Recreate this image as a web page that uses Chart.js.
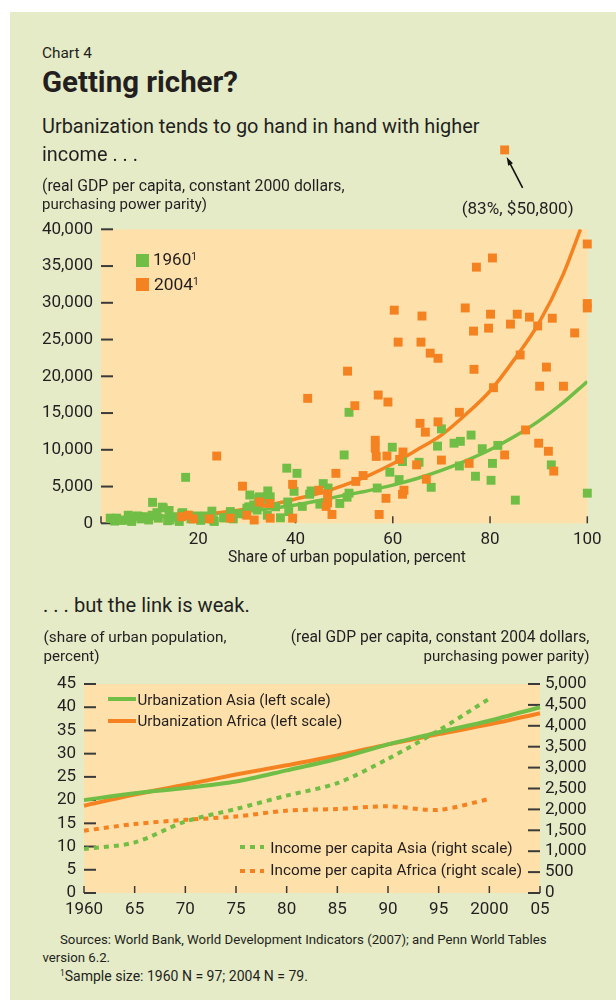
<!DOCTYPE html>
<html>
<head>
<meta charset="utf-8">
<script src="https://cdn.jsdelivr.net/npm/chart.js@4.4.1/dist/chart.umd.min.js"></script>
<style>
  body { margin: 0; width: 616px; height: 1000px; background: #fff; font-family: Roboto, sans-serif; color: #231f20; position: relative; overflow: hidden; }
  #panel { position: absolute; left: 10px; top: 12px; width: 606px; height: 988px; background: #e5ebc7; }
  canvas { position: absolute; left: 0; }
  .t { position: absolute; white-space: nowrap; line-height: 1; font-size: 16px; }
  .b { font-weight: 700; }
  .sup { font-size: 0.6em; position: relative; top: -0.55em; }
  .key { position: absolute; }
</style>
</head>
<body>
<div id="panel"></div>
<canvas id="scatter" width="616" height="440" style="top:140px"></canvas>
<canvas id="lines" width="616" height="270" style="top:660px"></canvas>

<div class="t" data-p="42,59,50">Chart 4</div>
<div class="t b" data-p="42,93,196">Getting richer?</div>
<div class="t" data-p="42,134,438">Urbanization tends to go hand in hand with higher</div>
<div class="t" data-p="42,161.7,96">income . . .</div>
<div class="t" data-p="42,191,303">(real GDP per capita, constant 2000 dollars,</div>
<div class="t" data-p="42,210,165">purchasing power parity)</div>
<div class="t" data-p="461.7,214,112">(83%, $50,800)</div>

<div class="key" style="left:136px;top:254px;width:13px;height:13px;background:#70be46"></div>
<div class="key" style="left:136px;top:278px;width:13px;height:13px;background:#f58220"></div>
<div class="t" data-p="153,265.7,44">1960<span class="sup">1</span></div>
<div class="t" data-p="154,291,45">2004<span class="sup">1</span></div>
<div class="t" data-p="228,563,238">Share of urban population, percent</div>

<div class="t" data-p="43,611.7,207">. . . but the link is weak.</div>
<div class="t" data-p="43.6,643.3,183">(share of urban population,</div>
<div class="t" data-p="43.6,661.7,56">percent)</div>
<div class="t" data-r="1" data-p="589.4,643.3,299">(real GDP per capita, constant 2004 dollars,</div>
<div class="t" data-r="1" data-p="589.4,661.7,166">purchasing power parity)</div>

<div class="key" style="left:108px;top:697px;width:28px;height:4px;background:#70be46"></div>
<div class="key" style="left:108px;top:719px;width:28px;height:4px;background:#f58220"></div>
<div class="key" style="left:240px;top:845px;width:24px;height:4px;background:repeating-linear-gradient(90deg,#70be46 0 5px,transparent 5px 10px)"></div>
<div class="key" style="left:240px;top:869px;width:24px;height:4px;background:repeating-linear-gradient(90deg,#f58220 0 5px,transparent 5px 10px)"></div>
<div class="t" data-p="137.5,705.5,193.5">Urbanization Asia (left scale)</div>
<div class="t" data-p="137.5,727,205">Urbanization Africa (left scale)</div>
<div class="t" data-p="270.3,854,242.5">Income per capita Asia (right scale)</div>
<div class="t" data-p="270.3,875.5,252">Income per capita Africa (right scale)</div>

<div class="t" data-p="60,944.5,487">Sources: World Bank, World Development Indicators (2007); and Penn World Tables</div>
<div class="t" data-fs="13.2" data-p="42.4,962.5,0">version 6.2.</div>
<div class="t" data-p="60,980.5,248"><span class="sup">1</span>Sample size: 1960 N = 97; 2004 N = 79.</div>

<script>
// ---- top chart: urban share (%) vs real GDP per capita ----
const urban1960 = [1.9, 2.2, 2.8, 3.2, 3.9, 4.6, 5.6, 5.8, 6.3, 6.3, 7.4, 7.7, 8.2, 8.7, 9.1, 9.8, 10.5, 10.6, 10.6, 11.5,
  11.8, 12.6, 12.8, 13.7, 14, 14.2, 14.9, 15.9, 16.1, 16.6, 16.8, 17.4, 17.7, 18.5, 19.7, 20.5, 21.4, 22.8, 23.1, 23.3,
  25.2, 25.5, 26.6, 27.2, 28, 29.7, 30, 30.4, 30.6, 31.4, 32.1, 32.4, 32.6, 33.5, 34.2, 34.3, 34.8, 35.9, 36.9, 38.2,
  38.4, 38.6, 39.7, 40.3, 41.4, 42.9, 43.2, 45, 45.7, 46.7, 49.1, 50, 50.6, 51, 51, 56.8, 59.4, 59.9, 61.3, 62,
  65.4, 67.9, 69.2, 70, 72.6, 73.7, 73.9, 76.1, 77, 78.4, 80.2, 80.5, 81.6, 85.2, 92.6, 100];
const gdp1960 = [700, 650, 300, 700, 450, 400, 1100, 800, 750, 250, 1000, 950, 600, 900, 750, 450, 1100, 2850, 1000, 1450,
  700, 2200, 2100, 350, 1750, 450, 900, 800, 250, 1350, 1450, 6250, 1100, 600, 1000, 400, 1000, 1650, 450, 250,
  750, 750, 1600, 600, 1300, 1250, 2050, 2250, 3850, 2500, 1800, 3400, 3600, 3250, 1100, 4400, 3600, 2250, 750, 7500,
  2900, 1600, 4350, 6800, 2300, 3950, 4400, 2600, 5400, 4800, 2700, 9300, 3550, 4100, 15100, 4800, 6950, 10350, 5950, 8400,
  8300, 4900, 10500, 12850, 10900, 7800, 11150, 12000, 6400, 10150, 5850, 8150, 10600, 3150, 7950, 4100];

const urban2004 = [16.6, 18, 19, 22.3, 23.8, 26.6, 29.1, 30, 31.5, 32.6, 34.7, 34.8, 39.4, 39.4, 42.5, 44.8, 46.6, 46.6, 46.3, 47.5,
  48.3, 50.7, 52.2, 52.4, 53.9, 56.4, 56.4, 56.6, 57, 57.2, 58.6, 58.8, 59, 60.3, 61.1, 61.4, 62, 62.3, 62.1, 64.9,
  65.6, 65.8, 66, 66.7, 66.9, 67.7, 69.3, 69.3, 70, 73.7, 74.9, 75.7, 76.6, 76.7, 77.2, 79.7, 80.1, 80.5, 80.7, 83,
  83, 84.2, 85.6, 86.2, 87.3, 88.1, 89.8, 90, 90.2, 91.6, 92, 92.8, 93.1, 95.1, 97.4, 100, 100, 100];
const gdp2004 = [900, 1100, 600, 600, 9150, 700, 5050, 1100, 450, 2900, 2700, 700, 5300, 700, 17000, 4500, 4000, 2800, 2300, 1200,
  6800, 20700, 16000, 5700, 6500, 11300, 10200, 9100, 17450, 1200, 3400, 9150, 16500, 29000, 24650, 8700, 3950, 4500, 9700, 7950,
  13600, 24650, 28200, 12400, 6000, 23150, 13800, 22450, 8600, 15100, 29300, 8150, 26150, 20950, 34850, 26550, 28450, 36100, 18450, 9300,
  50800, 27100, 28450, 22900, 12700, 28050, 26850, 10900, 18650, 21250, 9800, 27900, 7100, 18650, 25900, 38000, 29900, 29300];

// fitted trend curves
const fitUrban1960 = [2, 10, 20, 30, 40, 50, 55, 60, 65, 70, 75, 80, 85, 90, 95, 100];
const fitGdp1960 = [700, 900, 1200, 1650, 2500, 3800, 4450, 5200, 6100, 7200, 8500, 10000, 11800, 13900, 16400, 19300];
const fitUrban2004 = [17, 20, 25, 30, 35, 40, 45, 50, 55, 60, 65, 70, 75, 80, 85, 90, 95, 98.6];
const fitGdp2004 = [800, 1100, 1500, 1950, 2550, 3300, 4100, 5200, 6500, 8100, 10000, 12000, 14800, 18000, 22300, 27200, 33800, 40000];

// the labelled outlier (also in the 2004 arrays), sits above the plot
const noteUrban = 83;
const noteGdp = 50800;

const urbanTicks = [0, 20, 40, 60, 80, 100];
const gdpTicks = [0, 5000, 10000, 15000, 20000, 25000, 30000, 35000, 40000];

// ---- bottom chart: urbanization and income, Asia vs Africa ----
const years = ['1960', '65', '70', '75', '80', '85', '90', '95', '2000', '05'];
const urbAsia = [20, 21.5, 22.6, 24.0, 26.4, 28.9, 32.0, 34.6, 37.1, 40.0];
const urbAfrica = [18.8, 21.2, 23.3, 25.5, 27.5, 29.6, 32.0, 34.2, 36.3, 38.7];
const incAsia = [1050, 1210, 1710, 2010, 2330, 2630, 3210, 3890, 4650];
const incAfrica = [1490, 1650, 1750, 1830, 1970, 2010, 2075, 1990, 2250];
const shareTicks = [0, 5, 10, 15, 20, 25, 30, 35, 40, 45];
const incomeTicks = [0, 500, 1000, 1500, 2000, 2500, 3000, 3500, 4000, 4500, 5000];

const green = '#70be46';
const orange = '#f58220';
const plotBg = '#fde0aa';

Chart.defaults.font.family = 'Roboto';
Chart.defaults.font.size = 17;
Chart.defaults.color = '#231f20';

const toXY = (xs, ys) => xs.map((x, i) => ({ x, y: ys[i] }));
const fmt = v => v.toLocaleString('en-US');
const squareMark = { pointStyle: 'rect', radius: 6.3, rotation: 0, borderWidth: 0 };

// fill the plot area
const plotBackground = {
  id: 'plotBackground',
  beforeDraw(chart) {
    const { ctx, chartArea: a } = chart;
    ctx.save();
    ctx.fillStyle = plotBg;
    ctx.fillRect(a.left, a.top, a.right - a.left, a.bottom - a.top);
    ctx.restore();
  }
};

// tick marks point into the plot
const inwardTicks = {
  id: 'inwardTicks',
  beforeDatasetsDraw(chart) {
    const { ctx, chartArea: a } = chart;
    ctx.save();
    ctx.strokeStyle = '#3a3a3a';
    Object.values(chart.scales).forEach(s => {
      s.ticks.forEach((t, i) => {
        const p = s.getPixelForTick(i);
        ctx.beginPath();
        if (s.position === 'bottom') {
          ctx.lineWidth = 1.5;
          ctx.moveTo(p, a.bottom - 7);
          ctx.lineTo(p, a.bottom);
        } else if (s.position === 'left') {
          ctx.lineWidth = 2;
          ctx.moveTo(a.left, p);
          ctx.lineTo(a.left + 12, p);
        } else {
          ctx.lineWidth = 2;
          ctx.moveTo(a.right - 12, p);
          ctx.lineTo(a.right, p);
        }
        ctx.stroke();
      });
    });
    ctx.restore();
  }
};

// the outlier lies outside the chart area, so Chart.js skips it: draw it here, plus its arrow
const outlierArrow = {
  id: 'outlierArrow',
  afterDatasetsDraw(chart) {
    const { ctx } = chart;
    const px = chart.scales.x.getPixelForValue(noteUrban);
    const py = chart.scales.y.getPixelForValue(noteGdp);
    ctx.save();
    ctx.fillStyle = orange;
    Chart.helpers.drawPoint(ctx, squareMark, px, py);
    const tip = [px + 2, py + 7], tail = [px + 18, py + 38];
    const ang = Math.atan2(tip[1] - tail[1], tip[0] - tail[0]);
    ctx.strokeStyle = ctx.fillStyle = '#111';
    ctx.lineWidth = 1.6;
    ctx.beginPath();
    ctx.moveTo(tail[0], tail[1]);
    ctx.lineTo(tip[0] - 5 * Math.cos(ang), tip[1] - 5 * Math.sin(ang));
    ctx.stroke();
    ctx.beginPath();
    ctx.moveTo(tip[0], tip[1]);
    ctx.lineTo(tip[0] - 9 * Math.cos(ang - 0.3), tip[1] - 9 * Math.sin(ang - 0.3));
    ctx.lineTo(tip[0] - 9 * Math.cos(ang + 0.3), tip[1] - 9 * Math.sin(ang + 0.3));
    ctx.closePath();
    ctx.fill();
    ctx.restore();
  }
};

const noGrid = { display: false, drawTicks: false };

new Chart(document.getElementById('scatter'), {
  type: 'scatter',
  data: {
    datasets: [
      { label: '2004', data: toXY(urban2004, gdp2004), backgroundColor: orange, pointStyle: 'rect',
        pointRadius: 6.3, borderWidth: 0, clip: false, order: 1 },
      { label: '1960', data: toXY(urban1960, gdp1960), backgroundColor: green, pointStyle: 'rect',
        pointRadius: 6.3, borderWidth: 0, clip: false, order: 2 },
      { type: 'line', data: toXY(fitUrban2004, fitGdp2004), borderColor: orange, borderWidth: 3.5,
        pointRadius: 0, cubicInterpolationMode: 'monotone', order: 3 },
      { type: 'line', data: toXY(fitUrban1960, fitGdp1960), borderColor: green, borderWidth: 3.5,
        pointRadius: 0, cubicInterpolationMode: 'monotone', order: 4 }
    ]
  },
  options: {
    responsive: false,
    animation: false,
    layout: { padding: { top: 89.3, right: 28.7 } },
    plugins: { legend: { display: false }, tooltip: { enabled: false } },
    scales: {
      x: {
        type: 'linear', min: 0, max: 100,
        grid: noGrid, border: { display: false },
        afterBuildTicks: s => { s.ticks = urbanTicks.map(v => ({ value: v })); },
        ticks: { padding: 6, autoSkip: false, callback: v => (v === 0 ? '' : v) },
        afterFit: s => { s.height = 56.7; }
      },
      y: {
        min: 0, max: 40000,
        grid: noGrid, border: { display: false },
        afterBuildTicks: s => { s.ticks = gdpTicks.map(v => ({ value: v })); },
        ticks: { padding: 8, autoSkip: false, callback: fmt },
        afterFit: s => { s.width = 101; }
      }
    }
  },
  plugins: [plotBackground, inwardTicks, outlierArrow]
});

new Chart(document.getElementById('lines'), {
  type: 'line',
  data: {
    labels: years,
    datasets: [
      { label: 'Income per capita Asia (right scale)', data: incAsia, yAxisID: 'y1',
        borderColor: green, borderWidth: 4, borderDash: [5, 5], order: 1 },
      { label: 'Income per capita Africa (right scale)', data: incAfrica, yAxisID: 'y1',
        borderColor: orange, borderWidth: 4, borderDash: [5, 5], order: 2 },
      { label: 'Urbanization Asia (left scale)', data: urbAsia, yAxisID: 'y',
        borderColor: green, borderWidth: 4, order: 3 },
      { label: 'Urbanization Africa (left scale)', data: urbAfrica, yAxisID: 'y',
        borderColor: orange, borderWidth: 4, order: 4 }
    ]
  },
  options: {
    responsive: false,
    animation: false,
    elements: { point: { radius: 0 }, line: { tension: 0.3, borderCapStyle: 'butt' } },
    layout: { padding: { top: 24 } },
    plugins: { legend: { display: false }, tooltip: { enabled: false } },
    scales: {
      x: {
        grid: noGrid, border: { display: false },
        ticks: { padding: 7, autoSkip: false, maxRotation: 0 },
        afterFit: s => { s.height = 37; }
      },
      y: {
        position: 'left', min: 0, max: 45,
        grid: noGrid, border: { display: false },
        afterBuildTicks: s => { s.ticks = shareTicks.map(v => ({ value: v })); },
        ticks: { padding: 8, autoSkip: false },
        afterFit: s => { s.width = 84; }
      },
      y1: {
        position: 'right', min: 0, max: 5000,
        grid: noGrid, border: { display: false },
        afterBuildTicks: s => { s.ticks = incomeTicks.map(v => ({ value: v })); },
        ticks: { padding: 5, autoSkip: false, callback: fmt },
        afterFit: s => { s.width = 76; }
      }
    }
  },
  plugins: [plotBackground, inwardTicks]
});

// place the text blocks: size each to its measured width (or a set size), then put it on its baseline
document.querySelectorAll('.t').forEach(el => {
  const [x, base, w] = el.dataset.p.split(',').map(Number);
  const fs = el.dataset.fs ? Number(el.dataset.fs) : 16 * w / el.getBoundingClientRect().width;
  el.style.fontSize = fs + 'px';
  el.style.top = (base - 0.84 * fs) + 'px';
  el.style.left = (el.dataset.r ? x - el.getBoundingClientRect().width : x) + 'px';
});
</script>
</body>
</html>
